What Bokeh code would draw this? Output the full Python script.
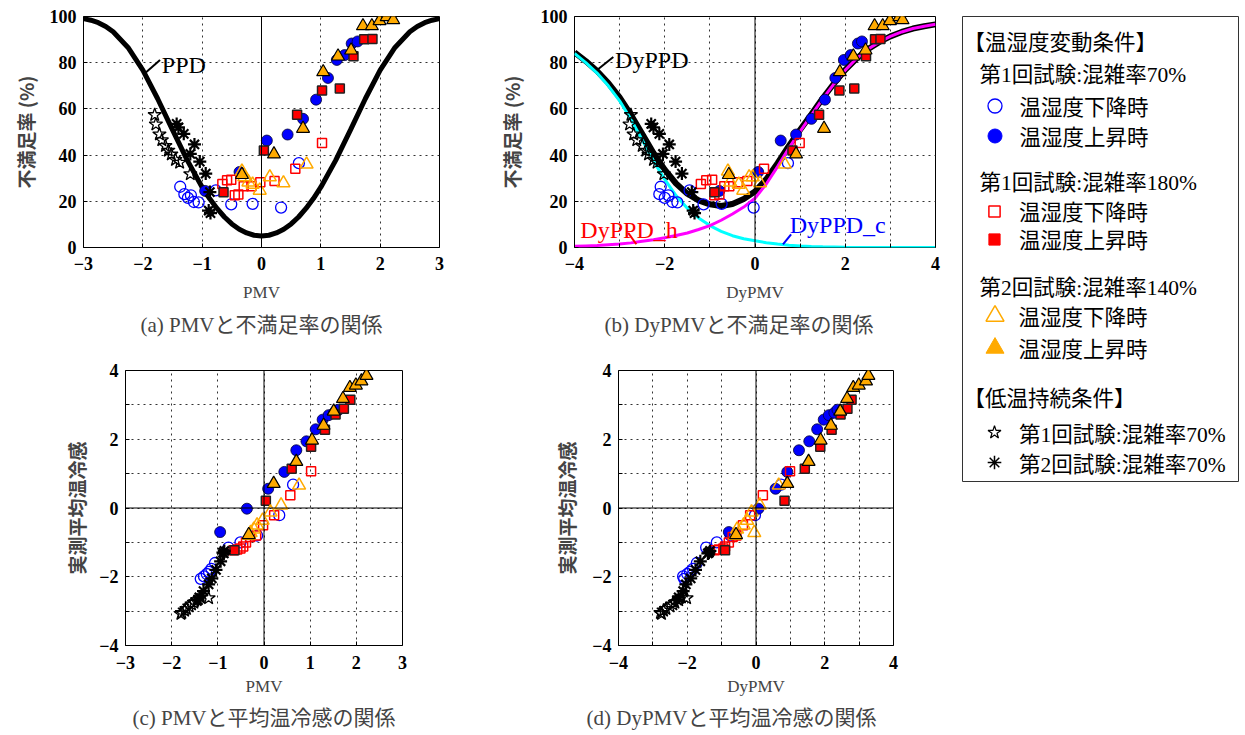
import numpy as np
from bokeh.plotting import figure
from bokeh.models import Range1d, FixedTicker, Span, Label, Title, Legend, LegendItem, Spacer
from bokeh.layouts import row, column
from bokeh.embed import file_html
from bokeh.resources import INLINE

# ---------------- curves ----------------
PPD_PMV = [-3, -2.875, -2.75, -2.625, -2.5, -2.25, -2, -1.75, -1.5, -1.25, -1, -0.875, -0.75,
           -0.625, -0.5, -0.375, -0.25, -0.125, 0, 0.125, 0.25, 0.375, 0.5, 0.625, 0.75, 0.875,
           1, 1.25, 1.5, 1.75, 2, 2.25, 2.5, 2.625, 2.75, 2.875, 3]
PPD_VAL = [99.1, 98.4, 97.3, 95.7, 93.4, 86.6, 76.8, 64.4, 50.9, 37.7, 26.1, 21.2, 16.9,
           13.2, 10.2, 7.9, 6.3, 5.3, 5.0, 5.3, 6.3, 7.9, 10.2, 13.2, 16.9, 21.2,
           26.1, 37.7, 50.9, 64.4, 76.8, 86.6, 93.4, 95.7, 97.3, 98.4, 99.1]

DY_GRID = [-4, -3.75, -3.5, -3.25, -3, -2.75, -2.5, -2.25, -2, -1.75, -1.5, -1.25, -1, -0.75,
           -0.5, -0.25, 0, 0.25, 0.5, 0.75, 1, 1.25, 1.5, 1.75, 2, 2.25, 2.5, 2.75, 3, 3.25,
           3.5, 3.75, 4]
DYPPD_C = [84.0, 80.0, 75.5, 70.0, 63.5, 55.5, 46.5, 37.5, 29.5, 22.5, 17.0, 12.8, 9.5, 7.0,
           5.1, 3.8, 2.9, 2.1, 1.5, 1.0, 0.7, 0.45, 0.3, 0.2, 0.1, 0.05, 0.03, 0.02, 0.01, 0.0,
           0.0, 0.0, 0.0]
DYPPD_H = [0.5, 0.7, 0.9, 1.2, 1.5, 2.0, 2.7, 3.4, 4.2, 5.2, 6.3, 7.8, 9.5, 11.8,
           14.5, 17.5, 21.3, 27.5, 35.0, 43.0, 50.3, 57.3, 64.3, 70.8, 76.8, 81.8, 85.8, 88.9,
           91.4, 93.3, 94.8, 95.8, 96.6]
DYPPD = [84.5, 80.7, 76.4, 71.2, 65.0, 57.5, 49.2, 40.9, 33.7, 27.7, 23.3, 20.4, 18.7, 18.0,
         18.8, 21.0, 24.2, 29.6, 36.5, 44.0, 51.0, 57.7, 64.6, 71.0, 76.9, 81.8, 85.8, 88.9,
         91.4, 93.3, 94.8, 95.8, 96.6]

# ---------------- measured points ----------------
# 第1回試験 混雑率70% 温湿度下降時 (open blue circles)
r1_70_down_pmv = [-1.37, -1.30, -1.24, -1.19, -1.14, -1.06, -0.77, -0.51, -0.15, 0.33, 0.63]
r1_70_down_dy = [-2.09, -2.12, -2.00, -1.92, -1.83, -1.72, -1.45, -1.14, -0.74, -0.03, 0.73]
r1_70_down_dis = [26.3, 23.1, 21.5, 22.6, 19.7, 19.5, 24.7, 18.7, 18.9, 17.3, 36.5]
r1_70_down_sens = [-2.06, -1.99, -1.92, -1.86, -1.77, -1.60, -1.15, -1.00, -0.80, -0.21, 0.68]
# 第1回試験 混雑率70% 温湿度上昇時 (filled blue circles)
r1_70_up_pmv = [-0.95, -0.37, 0.09, 0.44, 0.70, 0.92, 1.12, 1.27, 1.40, 1.52, 1.62]
r1_70_up_dy = [-0.79, 0.07, 0.57, 0.91, 1.25, 1.55, 1.78, 1.97, 2.12, 2.28, 2.37]
r1_70_up_dis = [24.5, 32.7, 46.3, 48.9, 55.7, 64.0, 73.4, 81.2, 83.3, 88.3, 89.2]
r1_70_up_sens = [-0.70, -0.02, 0.56, 1.05, 1.68, 1.94, 2.29, 2.57, 2.70, 2.77, 2.86]
# 第1回試験 混雑率180% 温湿度下降時 (open red squares)
r1_180_down_pmv = [-0.66, -0.58, -0.51, -0.45, -0.39, -0.30, -0.17, -0.02, 0.22, 0.57, 1.02]
r1_180_down_dy = [-1.20, -1.08, -0.95, -0.90, -0.79, -0.68, -0.57, -0.38, -0.17, 0.20, 0.99]
r1_180_down_dis = [27.5, 29.1, 29.3, 22.6, 22.9, 26.5, 26.5, 28.3, 28.8, 34.1, 45.2]
r1_180_down_sens = [-1.23, -1.21, -1.18, -1.12, -1.00, -0.84, -0.80, -0.50, -0.21, 0.37, 1.07]
# 第1回試験 混雑率180% 温湿度上昇時 (filled red squares)
r1_180_up_pmv = [-0.64, 0.04, 0.60, 1.02, 1.32, 1.55, 1.73, 1.87]
r1_180_up_dy = [-0.90, 0.83, 1.42, 1.87, 2.20, 2.46, 2.66, 2.78]
r1_180_up_dis = [23.9, 42.0, 57.5, 68.0, 68.8, 82.8, 90.1, 90.3]
r1_180_up_sens = [-1.23, 0.21, 1.14, 1.78, 2.28, 2.72, 2.89, 3.15]
# 第2回試験 混雑率140% 温湿度下降時 (open orange triangles)
r2_140_down_pmv = [-0.33, -0.29, -0.22, -0.15, -0.03, 0.14, 0.37, 0.76]
r2_140_down_dy = [-0.60, -0.05, -0.55, -0.36, -0.26, -0.13, 0.11, 0.66]
r2_140_down_dis = [33.0, 30.5, 28.3, 27.3, 24.7, 30.5, 27.9, 36.0]
r2_140_down_sens = [-0.80, -0.72, -0.62, -0.50, -0.36, -0.12, 0.08, 0.66]
# 第2回試験 混雑率140% 温湿度上昇時 (filled orange triangles)
r2_140_up_pmv = [-0.33, 0.21, 0.70, 1.04, 1.29, 1.51, 1.71, 1.86, 1.99, 2.11, 2.22]
r2_140_up_dy = [-0.58, 0.91, 1.53, 1.88, 2.18, 2.45, 2.65, 2.83, 2.99, 3.20, 3.27]
r2_140_up_dis = [31.5, 40.4, 51.5, 76.0, 82.8, 85.4, 95.9, 95.9, 98.1, 99.8, 98.5]
r2_140_up_sens = [-0.78, 0.71, 1.35, 1.97, 2.40, 2.81, 3.18, 3.50, 3.57, 3.69, 3.85]
# 低温持続条件 第1回試験 混雑率70% (stars)
low1_pmv = [-1.80, -1.78, -1.72, -1.68, -1.62, -1.57, -1.52, -1.45, -1.38, -1.20]
low1_dy = [-2.75, -2.78, -2.69, -2.62, -2.50, -2.42, -2.36, -2.25, -2.17, -2.02]
low1_dis = [57.4, 53.3, 49.0, 46.5, 44.0, 42.0, 40.3, 38.0, 36.8, 31.8]
low1_sens = [-3.08, -3.05, -2.98, -2.93, -2.86, -2.80, -2.75, -2.68, -2.60, -2.62]
# 低温持続条件 第2回試験 混雑率70% (asterisks)
low2_pmv = [-1.43, -1.40, -1.31, -1.20, -1.13, -1.04, -0.94, -0.87, -0.89, -0.86]
low2_dy = [-2.30, -2.25, -2.12, -2.04, -1.90, -1.76, -1.62, -1.40, -1.37, -1.34]
low2_dis = [53.5, 52.0, 49.2, 40.5, 44.6, 37.2, 32.0, 24.0, 16.0, 14.9]
low2_sens = [-2.68, -2.60, -2.42, -2.22, -2.05, -1.80, -1.55, -1.32, -1.30, -1.25]

# ---------------- styles ----------------
SERIF = "Liberation Serif"
JPF = "Noto Sans CJK JP"
MIXF = "Liberation Serif, Noto Sans CJK JP"
BLUE, RED, ORANGE = "#0000FF", "#FF0000", "#FFAA00"
CYAN, MAGENTA = "#00FFFF", "#FF00FF"

STY = {
    "ob": dict(marker="circle", size=11, fill_color=None, line_color=BLUE, line_width=1.3),
    "fb": dict(marker="circle", size=11, fill_color=BLUE, line_color="#000033", line_width=0.8),
    "or": dict(marker="square", size=9, fill_color=None, line_color=RED, line_width=1.5),
    "fr": dict(marker="square", size=9, fill_color=RED, line_color="#222222", line_width=1.5),
    "oo": dict(marker="triangle", size=13, fill_color=None, line_color=ORANGE, line_width=1.5),
    "fo": dict(marker="triangle", size=13, fill_color=ORANGE, line_color="black", line_width=1.2),
    "st": dict(marker="star", size=14, fill_color=None, line_color="black", line_width=1.3),
    "as": dict(marker="asterisk", size=13, line_color="black", line_width=2.2),
}

SERIES = [
    ("ob", r1_70_down_pmv, r1_70_down_dy, r1_70_down_dis, r1_70_down_sens),
    ("fb", r1_70_up_pmv, r1_70_up_dy, r1_70_up_dis, r1_70_up_sens),
    ("or", r1_180_down_pmv, r1_180_down_dy, r1_180_down_dis, r1_180_down_sens),
    ("fr", r1_180_up_pmv, r1_180_up_dy, r1_180_up_dis, r1_180_up_sens),
    ("oo", r2_140_down_pmv, r2_140_down_dy, r2_140_down_dis, r2_140_down_sens),
    ("fo", r2_140_up_pmv, r2_140_up_dy, r2_140_up_dis, r2_140_up_sens),
    ("st", low1_pmv, low1_dy, low1_dis, low1_sens),
    ("as", low2_pmv, low2_dy, low2_dis, low2_sens),
]


def panel(width, height, xr, yr, borders, xt, yt, x_even, y_even, xlabel, ylabel,
          caption, cap_align, cap_offset, cap_standoff, ylab_standoff, xlab_standoff,
          xtick_standoff, zero_h):
    bl, br, bt, bb = borders
    p = figure(width=width, height=height, x_range=Range1d(*xr), y_range=Range1d(*yr),
               output_backend="svg", toolbar_location=None, title=None,
               min_border_left=bl, min_border_right=br, min_border_top=bt,
               min_border_bottom=bb)
    p.background_fill_color = "white"
    p.border_fill_color = "white"
    p.outline_line_color = "black"
    p.outline_line_width = 1
    p.xaxis.ticker = FixedTicker(ticks=xt)
    p.yaxis.ticker = FixedTicker(ticks=yt)
    p.xgrid.ticker = FixedTicker(ticks=xt)
    p.ygrid.ticker = FixedTicker(ticks=yt)
    p.grid.grid_line_color = "#333333"
    p.grid.grid_line_dash = "2 4"
    p.grid.grid_line_width = 1
    if x_even:
        p.xaxis.major_label_overrides = {t: "" for t in xt if t % 2 != 0}
    if y_even:
        p.yaxis.major_label_overrides = {t: "" for t in yt if t % 2 != 0}
    for ax in (p.xaxis[0], p.yaxis[0]):
        ax.axis_line_color = None
        ax.major_tick_in = 4
        ax.major_tick_out = 0
        ax.major_tick_line_color = "black"
        ax.minor_tick_line_color = None
        ax.major_label_text_font = SERIF
        ax.major_label_text_font_style = "bold"
        ax.major_label_text_font_size = "18px"
        ax.major_label_text_color = "black"
    p.yaxis.major_label_standoff = 7
    p.xaxis.major_label_standoff = xtick_standoff
    p.xaxis.axis_label = xlabel
    p.xaxis.axis_label_text_font = SERIF
    p.xaxis.axis_label_text_font_size = "17px"
    p.xaxis.axis_label_text_font_style = "normal"
    p.xaxis.axis_label_standoff = xlab_standoff
    p.yaxis.axis_label = ylabel
    p.yaxis.axis_label_text_font = JPF
    p.yaxis.axis_label_text_font_size = "19px"
    p.yaxis.axis_label_text_font_style = "bold"
    p.yaxis.axis_label_standoff = ylab_standoff
    p.add_layout(Span(location=0, dimension="height", line_color="black", line_width=1))
    if zero_h:
        p.add_layout(Span(location=0, dimension="width", line_color="black", line_width=1))
    t = Title(text=caption, align=cap_align, offset=cap_offset, text_font=MIXF,
              text_font_size="21px", text_font_style="normal", standoff=cap_standoff)
    p.add_layout(t, "below")
    return p


A = panel(462, 335, (-3, 3), (0, 100), (70, 31, 8, 96), list(range(-3, 4)),
          list(range(0, 101, 20)), False, False, "PMV", "不満足率 (%)",
          "(a) PMVと不満足率の関係", "center", 0, 13, 8, 10, 9, False)
B = panel(491, 335, (-4, 4), (0, 100), (104, 26, 8, 96), list(range(-4, 5)),
          list(range(0, 101, 20)), True, False, "DyPMV", "不満足率 (%)",
          "(b) DyPMVと不満足率の関係", "left", 30, 13, 13, 10, 9, False)
C = panel(462, 391, (-3, 3), (-4, 4), (117, 68, 27, 89), list(range(-3, 4)),
          list(range(-4, 5)), False, True, "PMV", "実測平均温冷感",
          "(c) PMVと平均温冷感の関係", "center", 0, 10, 6, 5, 10, True)
D = panel(491, 391, (-4, 4), (-4, 4), (148, 68, 27, 89), list(range(-4, 5)),
          list(range(-4, 5)), True, True, "DyPMV", "実測平均温冷感",
          "(d) DyPMVと平均温冷感の関係", "left", -32, 10, 9, 5, 10, True)

# curves
A.line(PPD_PMV, PPD_VAL, line_color="black", line_width=5)
B.line(DY_GRID, DYPPD, line_color="black", line_width=6)
B.line(DY_GRID, DYPPD_C, line_color=CYAN, line_width=3)
B.line(DY_GRID, DYPPD_H, line_color=MAGENTA, line_width=3)

# curve names with leader lines
A.add_layout(Label(x=-1.68, y=79.0, text="PPD", text_font=SERIF, text_font_size="24px",
                   text_color="black", text_baseline="alphabetic"))
A.segment(x0=[-1.95], y0=[75.8], x1=[-1.71], y1=[81.2], line_color="black", line_width=2)
B.add_layout(Label(x=-3.10, y=81.0, text="DyPPD", text_font=SERIF, text_font_size="24px",
                   text_color="black", text_baseline="alphabetic"))
B.segment(x0=[-3.50], y0=[76.8], x1=[-3.14], y1=[82.5], line_color="black", line_width=2)
B.add_layout(Label(x=-3.87, y=7.4, text="DyPPD_h", text_font=SERIF, text_font_size="24px",
                   text_color=RED, text_baseline="alphabetic"))
B.segment(x0=[-2.81], y0=[6.3], x1=[-2.63], y1=[1.4], line_color=RED, line_width=2)
B.add_layout(Label(x=0.77, y=9.6, text="DyPPD_c", text_font=SERIF, text_font_size="24px",
                   text_color=BLUE, text_baseline="alphabetic"))
B.segment(x0=[0.62], y0=[1.4], x1=[0.80], y1=[5.7], line_color=BLUE, line_width=2)

# points
for key, pmv, dy, dis, sens in SERIES:
    A.scatter(x=pmv, y=dis, **STY[key])
    B.scatter(x=dy, y=dis, **STY[key])
    C.scatter(x=pmv, y=sens, **STY[key])
    D.scatter(x=dy, y=sens, **STY[key])

# ---------------- legend box ----------------
LW, LH = 276, 465
LEG = figure(width=LW + 2, height=LH + 2, x_range=Range1d(0, LW), y_range=Range1d(0, LH),
             output_backend="svg", toolbar_location=None, title=None,
             x_axis_type=None, y_axis_type=None, min_border=1)
LEG.grid.visible = False
LEG.outline_line_color = "#333333"
LEG.outline_line_width = 1
LEG.background_fill_color = "white"
LEG.border_fill_color = "white"

headings = [("【温湿度変動条件】", 1, 439), ("第1回試験:混雑率70%", 17, 407),
            ("第1回試験:混雑率180%", 17, 299), ("第2回試験:混雑率140%", 17, 194),
            ("【低温持続条件】", 1, 83)]
for txt, hx, hy in headings:
    LEG.add_layout(Label(x=hx, y=hy, text=txt, text_font=MIXF, text_font_size="21.5px",
                         text_baseline="middle", text_color="black"))

LEG_STY = {
    "ob": dict(marker="circle", fill_color=None, line_color=BLUE, line_width=1.3),
    "fb": dict(marker="circle", fill_color=BLUE, line_color=BLUE, line_width=1),
    "or": dict(marker="square", fill_color=None, line_color=RED, line_width=1.5),
    "fr": dict(marker="square", fill_color=RED, line_color=RED, line_width=1),
    "oo": dict(marker="triangle", fill_color=None, line_color=ORANGE, line_width=1.5),
    "fo": dict(marker="triangle", fill_color=ORANGE, line_color=ORANGE, line_width=1),
    "st": dict(marker="star", fill_color=None, line_color="black", line_width=1.2),
    "as": dict(marker="asterisk", line_color="black", line_width=1.5),
}
legend_rows = [("ob", "温湿度下降時", 376, 35), ("fb", "温湿度上昇時", 346, 35),
               ("or", "温湿度下降時", 269, 28), ("fr", "温湿度上昇時", 241, 28),
               ("oo", "温湿度下降時", 166, 45), ("fo", "温湿度上昇時", 134, 45),
               ("st", "第1回試験:混雑率70%", 49, 34), ("as", "第2回試験:混雑率70%", 19, 34)]
NAN = np.array([np.nan])  # legend-only glyphs: nothing is drawn inside the box
for key, lab, vy, G in legend_rows:
    r = LEG.scatter(x=NAN, y=NAN, **LEG_STY[key])
    L = Legend(items=[LegendItem(label=lab, renderers=[r])],
               location=(32 - G / 2, vy - G / 2), glyph_width=G, glyph_height=G,
               label_height=G, label_standoff=int(round(25 - G / 2)), padding=0, margin=0,
               spacing=0, border_line_color=None, background_fill_alpha=0,
               label_text_font=MIXF, label_text_font_size="21.5px", label_text_color="black")
    LEG.add_layout(L)

main = row(column(row(A, B), row(C, D)), column(Spacer(width=LW + 2, height=7), LEG))
layout = column(Spacer(width=10, height=8), row(Spacer(width=8, height=10), main))

open("out.html", "w").write(file_html(layout, INLINE))
